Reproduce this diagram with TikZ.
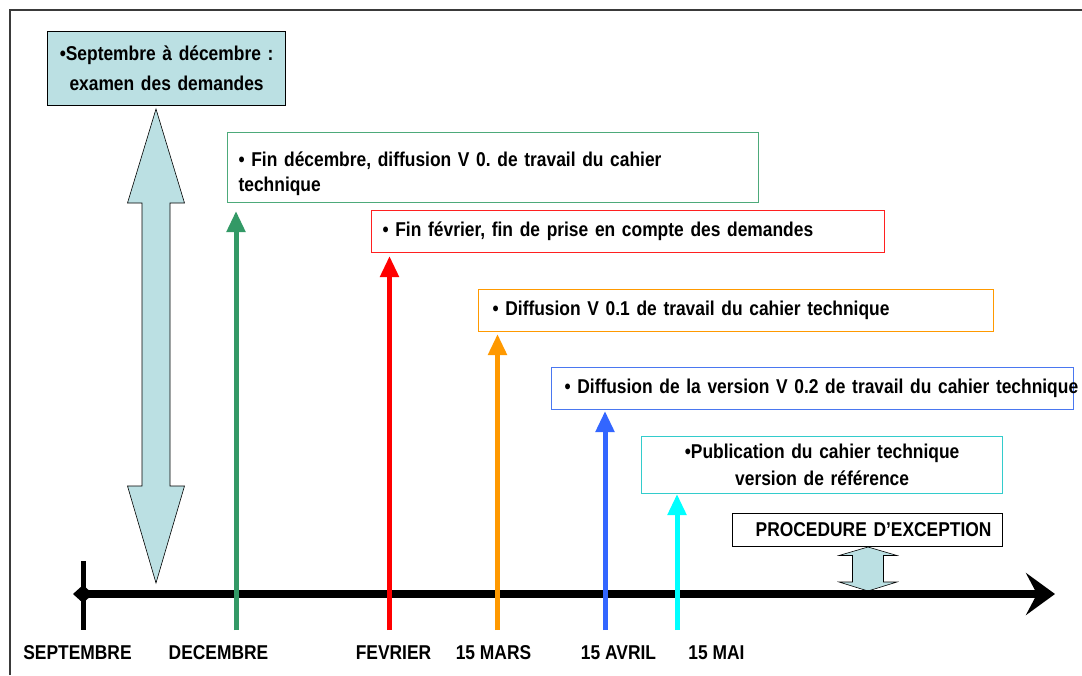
\documentclass[tikz,border=0pt]{standalone}
\usepackage{fontspec}
\setmainfont{Liberation Sans}[FakeStretch=0.87]
\usetikzlibrary{arrows.meta}
\definecolor{lblue}{HTML}{BBE0E3}
\definecolor{tgreen}{HTML}{339966}
\definecolor{tgreenb}{HTML}{4DAA7A}
\definecolor{tred}{HTML}{FF0000}
\definecolor{tredb}{HTML}{FF2020}
\definecolor{torange}{HTML}{FF9900}
\definecolor{tblue}{HTML}{3366FF}
\definecolor{tblueb}{HTML}{4A77F0}
\definecolor{tcyan}{HTML}{00FFFF}
\definecolor{tcyanb}{HTML}{33CCCC}
\definecolor{framec}{HTML}{3A3A3A}
\frenchspacing
\newcommand{\tfont}[1]{\fontsize{20}{#1}\selectfont\bfseries}
\begin{document}
\begin{tikzpicture}[x=1pt,y=-1pt,
  every node/.style={font=\tfont{23}},
  tbox/.style={draw, line width=1.2pt, anchor=north west, inner ysep=0pt},
  vline/.style={line width=5pt, -{Triangle[width=18pt,length=21pt]}},
  lab/.style={anchor=base},
  bigarrow/.style={draw=black, line width=0.6pt, fill=lblue}]
\useasboundingbox (0,0) rectangle (1082,675);
\fill[white] (0,0) rectangle (1082,675);
% frame
\draw[framec, line width=1.3pt] (10,675) -- (10,10) -- (1082,10);

% top-left box
\node[tbox, draw=black, fill=lblue, inner xsep=0pt, text width=238pt, minimum height=74pt, align=center,
  font=\tfont{30}] (sep) at (47,31)
  {\textbullet Septembre à décembre :\\examen des demandes};

% big double arrow
\draw[bigarrow] (156,109) -- (184.5,203) -- (170,203) -- (170,486) -- (184.5,486) -- (156,583)
  -- (127.5,486) -- (142,486) -- (142,203) -- (127.5,203) -- cycle;

% boxes
\node[tbox, draw=tgreenb, inner xsep=11pt, text width=509pt, minimum height=70pt, align=left,
  font=\tfont{25}] (bgreen) at (227,132)
  {\rule{0pt}{26.6pt}\mbox{\textbullet{} Fin décembre, diffusion V 0. de travail du cahier}\\technique};
\node[tbox, draw=tredb, inner xsep=11pt, text width=491pt, minimum height=42pt, align=left] (bred) at (371,210)
  {\mbox{\textbullet{} Fin février, fin de prise en compte des demandes}};
\node[tbox, draw=torange, inner xsep=14pt, text width=487pt, minimum height=42pt, align=left] (borange) at (478,289)
  {\mbox{\textbullet{} Diffusion V 0.1 de travail du cahier technique}};
\node[tbox, draw=tblueb, inner xsep=13pt, text width=496pt, minimum height=42pt, align=left] (bblue) at (551,367)
  {\mbox{\textbullet{} Diffusion de la version V 0.2 de travail du cahier technique}};
\node[tbox, draw=tcyanb, inner xsep=0pt, text width=361pt, minimum height=57pt, align=center,
  font=\tfont{27}] (bcyan) at (641,436)
  {\textbullet Publication du cahier technique\\version de référence};
\node[tbox, draw=black, inner xsep=0pt, text width=270pt, minimum height=33pt, align=center] (bproc) at (732,513)
  {\hspace*{12pt}PROCEDURE D’EXCEPTION};

% small double arrow
\draw[bigarrow] (868,547) -- (897,555.5) -- (883.5,555.5) -- (883.5,582) -- (897,582) -- (868,591)
  -- (839,582) -- (852.5,582) -- (852.5,555.5) -- (839,555.5) -- cycle;

% timeline
\coordinate (tl0) at (83,594);
\coordinate (tl1) at (1055,594);
\draw[line width=7.5pt, -{Stealth[length=29pt,width=42pt,inset=11pt]}] (tl0) -- (tl1);
\draw[line width=5pt] (83,561) -- (83,630);
\fill (73,594) -- (83,585) -- (93,594) -- (83,603) -- cycle;

% vertical milestone arrows
\coordinate (gb) at (236,630);   \coordinate (gt) at (236,211);
\coordinate (rb) at (389.5,630); \coordinate (rt) at (389.5,256);
\coordinate (ob) at (497.5,630); \coordinate (ot) at (497.5,334);
\coordinate (bb) at (605,630);   \coordinate (bt) at (605,411);
\coordinate (cb) at (677,630);   \coordinate (ct) at (677,494);
\draw[vline, tgreen] (gb) -- (gt);
\draw[vline, tred] (rb) -- (rt);
\draw[vline, torange] (ob) -- (ot);
\draw[vline, tblue] (bb) -- (bt);
\draw[vline, tcyan] (cb) -- (ct);

% labels
\node[lab] (lsep) at (77.5,659) {SEPTEMBRE};
\node[lab] (ldec) at (218.5,659) {DECEMBRE};
\node[lab] (lfev) at (393.5,659) {FEVRIER};
\node[lab] (lmar) at (493.5,659) {15 MARS};
\node[lab] (lavr) at (618.5,659) {15 AVRIL};
\node[lab] (lmai) at (716.5,659) {15 MAI};
\end{tikzpicture}
\end{document}
